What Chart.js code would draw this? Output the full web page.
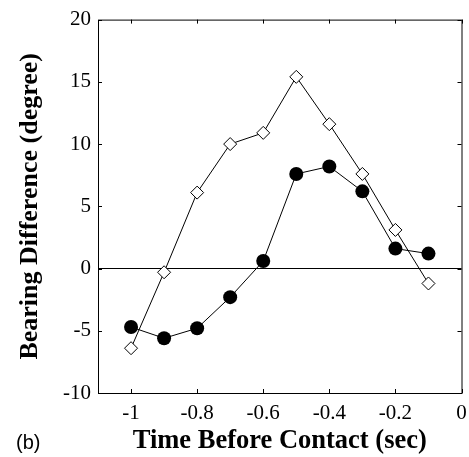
<!DOCTYPE html>
<html>
<head>
<meta charset="utf-8">
<script src="https://cdn.jsdelivr.net/npm/chart.js@4/dist/chart.umd.min.js"></script>
<style>
    body { margin: 0; background: #fff; }
</style>
</head>
<body>
<canvas id="chartBearing" width="469" height="457"></canvas>
<script>
var timeValues = [-1, -0.9, -0.8, -0.7, -0.6, -0.5, -0.4, -0.3, -0.2, -0.1];
var openDiamondValues = [-6.4, -0.3, 6.1, 10.0, 10.9, 15.4, 11.6, 7.6, 3.1, -1.2];
var filledCircleValues = [-4.7, -5.6, -4.8, -2.3, 0.6, 7.6, 8.2, 6.2, 1.6, 1.2];
var xTickValues = [-1, -0.8, -0.6, -0.4, -0.2, 0];
var xTickLabels = ['-1', '-0.8', '-0.6', '-0.4', '-0.2', '0'];

function toPoints(ys) {
    return timeValues.map(function (t, i) { return { x: t, y: ys[i] }; });
}

// box round the plot plus the small inward ticks on all four sides
var frameTicks = {
    id: 'frameTicks',
    beforeDatasetsDraw: function (chart) {
        var ctx = chart.ctx;
        var a = chart.chartArea;
        var xs = chart.scales.x, ys = chart.scales.y;
        var len = 4;
        ctx.save();
        ctx.strokeStyle = '#000';
        ctx.lineWidth = 1;
        ctx.strokeRect(a.left + 0.5, a.top + 0.5, a.right - a.left, a.bottom - a.top);
        ctx.beginPath();
        xs.ticks.forEach(function (t) {
            var px = Math.round(xs.getPixelForValue(t.value)) + 0.5;
            ctx.moveTo(px, a.top); ctx.lineTo(px, a.top + len);
            ctx.moveTo(px, a.bottom); ctx.lineTo(px, a.bottom - len);
        });
        ys.ticks.forEach(function (t) {
            var py = Math.round(ys.getPixelForValue(t.value)) + 0.5;
            ctx.moveTo(a.left, py); ctx.lineTo(a.left + len, py);
            ctx.moveTo(a.right, py); ctx.lineTo(a.right - len, py);
        });
        ctx.stroke();
        ctx.restore();
    },
    afterDraw: function (chart) {
        var ctx = chart.ctx;
        ctx.save();
        ctx.fillStyle = '#000';
        ctx.font = '20px "Liberation Sans", Arial, sans-serif';
        ctx.textBaseline = 'middle';
        ctx.fillText('(b)', 16, 443);
        ctx.restore();
    }
};

var ctx = document.getElementById('chartBearing').getContext('2d');
var chartBearing = new Chart(ctx, {
    type: 'scatter',
    data: {
        datasets: [{
            data: toPoints(filledCircleValues),
            showLine: true,
            borderColor: '#000',
            borderWidth: 1,
            pointStyle: 'circle',
            pointRadius: 7,
            pointBackgroundColor: '#000',
            pointBorderColor: '#000',
            pointBorderWidth: 0
        }, {
            data: toPoints(openDiamondValues),
            showLine: true,
            borderColor: '#000',
            borderWidth: 1,
            pointStyle: 'rectRot',
            pointRadius: 6.5,
            pointBackgroundColor: '#fff',
            pointBorderColor: '#000',
            pointBorderWidth: 1
        }]
    },
    options: {
        responsive: false,
        animation: false,
        events: [],
        layout: { padding: { top: 17, right: 0, left: 0, bottom: 0 } },
        plugins: {
            legend: { display: false },
            tooltip: { enabled: false }
        },
        scales: {
            x: {
                type: 'linear',
                min: -1.1,
                max: 0,
                afterBuildTicks: function (scale) {
                    scale.ticks = xTickValues.map(function (v) { return { value: v }; });
                },
                afterFit: function (scale) {
                    scale.height = 64;
                    scale.paddingRight = 6;
                },
                border: { display: false },
                grid: { display: false, drawTicks: false },
                ticks: {
                    color: '#000',
                    padding: 8,
                    maxRotation: 0,
                    autoSkip: false,
                    font: { family: '"Liberation Serif", "Times New Roman", serif', size: 21 },
                    callback: function (value) {
                        var i = xTickValues.indexOf(value);
                        return i >= 0 ? xTickLabels[i] : '';
                    }
                },
                title: {
                    display: true,
                    text: 'Time Before Contact (sec)',
                    color: '#000',
                    font: { family: '"Liberation Serif", "Times New Roman", serif', size: 26.5, weight: 'bold', lineHeight: 1 },
                    padding: { top: 0, bottom: 3 }
                }
            },
            y: {
                min: -10,
                max: 20,
                afterFit: function (scale) { scale.width = 98; },
                border: { display: false },
                grid: {
                    drawTicks: false,
                    lineWidth: 1,
                    color: function (c) { return c.tick && c.tick.value === 0 ? '#000' : 'rgba(0,0,0,0)'; }
                },
                ticks: {
                    stepSize: 5,
                    color: '#000',
                    padding: 7,
                    font: { family: '"Liberation Serif", "Times New Roman", serif', size: 21 }
                },
                title: {
                    display: true,
                    text: 'Bearing Difference (degree)',
                    color: '#000',
                    font: { family: '"Liberation Serif", "Times New Roman", serif', size: 26, weight: 'bold', lineHeight: 1 },
                    padding: { top: 17, bottom: 0 }
                }
            }
        }
    },
    plugins: [frameTicks]
});
</script>
</body>
</html>
